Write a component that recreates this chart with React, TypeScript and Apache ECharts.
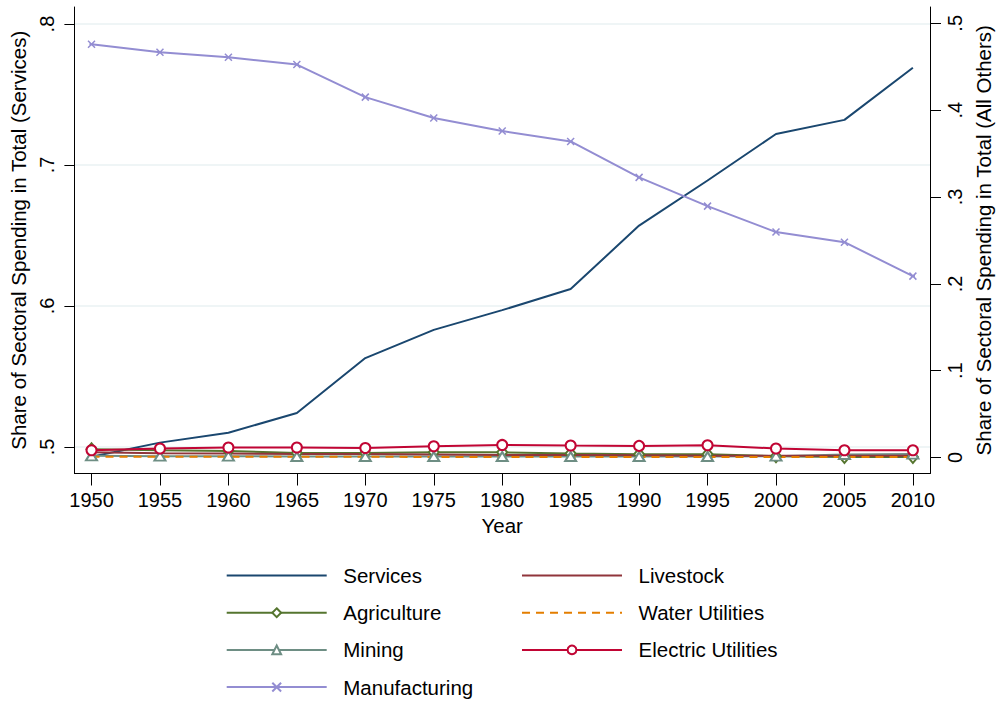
import React, { useEffect, useRef } from "react";
import * as echarts from "echarts";

const years = [1950, 1955, 1960, 1965, 1970, 1975, 1980, 1985, 1990, 1995, 2000, 2005, 2010];
// left axis (Services)
const services = [0.493, 0.503, 0.51, 0.524, 0.563, 0.583, 0.597, 0.612, 0.657, 0.689, 0.722, 0.732, 0.769];
// right axis (All Others)
const agriculture = [0.0095, 0.0084, 0.0076, 0.0053, 0.0053, 0.006, 0.006, 0.0046, 0.0038, 0.0038, 0.0015, 0.0007, 0.0007];
const mining = [0.002, 0.0015, 0.0015, 0.0012, 0.0012, 0.0012, 0.0012, 0.0012, 0.0012, 0.0012, 0.0015, 0.0035, 0.004];
const manufacturing = [0.4758, 0.4666, 0.461, 0.4525, 0.415, 0.391, 0.376, 0.364, 0.3226, 0.2895, 0.2596, 0.248, 0.2089];
const livestock = [0.006, 0.005, 0.0045, 0.004, 0.004, 0.0035, 0.003, 0.003, 0.0025, 0.002, 0.002, 0.002, 0.002];
const waterUtilities = [0.001, 0.001, 0.001, 0.0008, 0.0008, 0.0007, 0.0006, 0.0005, 0.0005, 0.0005, 0.0005, 0.0005, 0.0005];
const electricUtilities = [0.0084, 0.0104, 0.0115, 0.0115, 0.011, 0.013, 0.0145, 0.0138, 0.0134, 0.0142, 0.0104, 0.0084, 0.0084];

const leftTicks = [0.5, 0.6, 0.7, 0.8];
const rightTicks = [0, 0.1, 0.2, 0.3, 0.4, 0.5];
const legendCol1 = ["Services", "Agriculture", "Mining", "Manufacturing"];
const legendCol2 = ["Livestock", "Water Utilities", "Electric Utilities"];
const noSymbol = ["Services", "Livestock", "Water Utilities"];

const FONT = "'Liberation Sans', Arial, Helvetica, sans-serif";
const fmt = (v: number) => (v === 0 ? "0" : String(+v.toFixed(2)).replace(/^0/, ""));
const pts = (arr: number[]) => years.map((y, i) => [y, arr[i]]);

export default function App() {
  const ref = useRef<HTMLDivElement>(null);
  useEffect(() => {
    if (!ref.current) return;
    const chart = echarts.init(ref.current, null, { renderer: "svg" });
    const lineW = 2;
    const mk = (name: string, data: number[], color: string, yAxisIndex: number, extra: any = {}) => ({
      name,
      type: "line",
      yAxisIndex,
      data: pts(data),
      symbol: "none",
      lineStyle: { color, width: lineW },
      itemStyle: { color },
      ...extra,
    });
    const legendItems = (names: string[]) =>
      names.map((n) => (noSymbol.includes(n) ? { name: n, itemStyle: { opacity: 0 } } : { name: n }));
    const legendBase = {
      orient: "vertical",
      top: 560,
      height: 200,
      itemWidth: 100,
      itemHeight: 11,
      itemGap: 16.2,
      textStyle: { fontSize: 20.5, lineHeight: 21, color: "#000", padding: [0, 0, 0, 11.6], fontFamily: FONT },
      selectedMode: false,
    };
    chart.setOption({
      animation: false,
      backgroundColor: "#ffffff",
      textStyle: { fontFamily: FONT },
      grid: { left: 70.5, right: 68, top: 7, bottom: 231.5, containLabel: false },
      xAxis: {
        type: "value",
        min: 1948.75,
        max: 2011.25,
        name: "Year",
        nameLocation: "middle",
        nameGap: 41,
        nameTextStyle: { fontSize: 20.5, color: "#000", fontFamily: FONT },
        axisLine: { onZero: false, lineStyle: { color: "#000", width: 1 } },
        axisTick: { show: true, length: 12, customValues: years, lineStyle: { color: "#000" } },
        axisLabel: { customValues: years, fontSize: 20, color: "#000", margin: 16, formatter: (v: number) => String(v), fontFamily: FONT },
        splitLine: { show: false },
      },
      yAxis: [
        {
          type: "value",
          position: "left",
          min: 0.4811,
          max: 0.8121,
          name: "Share of Sectoral Spending in Total (Services)",
          nameLocation: "middle",
          nameRotate: 90,
          nameGap: 42,
          nameTextStyle: { fontSize: 20.5, color: "#000", fontFamily: FONT },
          axisLine: { show: true, lineStyle: { color: "#000", width: 1 } },
          axisTick: { show: true, length: 10, customValues: leftTicks, lineStyle: { color: "#000" } },
          axisLabel: { customValues: leftTicks, rotate: 90, fontSize: 20, color: "#000", margin: 17.5, formatter: fmt, fontFamily: FONT },
          splitLine: { show: true, lineStyle: { color: "#eaf2f3", width: 1.5 } },
        },
        {
          type: "value",
          position: "right",
          min: -0.0184,
          max: 0.5188,
          name: "Share of Sectoral Spending in Total (All Others)",
          nameLocation: "middle",
          nameRotate: 90,
          nameGap: 43,
          nameTextStyle: { fontSize: 20.5, color: "#000", fontFamily: FONT },
          axisLine: { show: true, lineStyle: { color: "#000", width: 1 } },
          axisTick: { show: true, length: 11, customValues: rightTicks, lineStyle: { color: "#000" } },
          axisLabel: { customValues: rightTicks, rotate: 90, fontSize: 20, color: "#000", margin: 15, formatter: fmt, fontFamily: FONT },
          splitLine: { show: false },
        },
      ],
      legend: [
        { ...legendBase, left: 220.7, data: legendItems(legendCol1) },
        { ...legendBase, left: 516, data: legendItems(legendCol2) },
      ],
      series: [
        mk("Services", services, "#1a476f", 0),
        mk("Agriculture", agriculture, "#55752f", 1, {
          symbol: "emptyDiamond",
          symbolSize: [10, 12],
          itemStyle: { color: "#55752f", borderColor: "#55752f", borderWidth: 1.8 },
        }),
        mk("Mining", mining, "#6e8e84", 1, {
          symbol: "emptyTriangle",
          symbolSize: [11, 9],
          itemStyle: { color: "#6e8e84", borderColor: "#6e8e84", borderWidth: 1.8 },
        }),
        mk("Manufacturing", manufacturing, "#938dd2", 1, {
          symbol: "path://M0,0L10,10M10,0L0,10M2,5L8,5",
          symbolSize: 7,
          itemStyle: { color: "#938dd2", borderColor: "#938dd2", borderWidth: 1.5 },
        }),
        mk("Livestock", livestock, "#90353b", 1),
        mk("Water Utilities", waterUtilities, "#e37e00", 1, {
          lineStyle: { color: "#e37e00", width: lineW, type: [8, 6] },
        }),
        mk("Electric Utilities", electricUtilities, "#c10534", 1, {
          symbol: "emptyCircle",
          symbolSize: 10,
          itemStyle: { color: "#c10534", borderColor: "#c10534", borderWidth: 2 },
        }),
      ],
    });
    return () => chart.dispose();
  }, []);
  return <div ref={ref} style={{ position: "fixed", left: 0, top: 0, width: 1002, height: 705 }} />;
}
